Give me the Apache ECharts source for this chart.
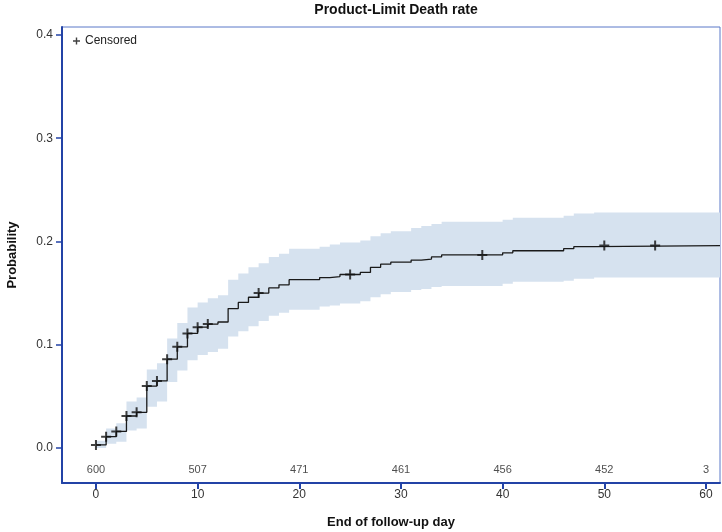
<!DOCTYPE html>
<html>
<head>
<meta charset="utf-8">
<script src="https://cdn.jsdelivr.net/npm/echarts@6/dist/echarts.min.js"></script>
<style>html,body{margin:0;padding:0;background:#fff}#c{width:722px;height:532px}</style>
</head>
<body>
<div id="c"></div>
<script>
// Step times (days)
const stepDays = [0,1,2,3,4,5,6,7,8,9,10,11,12,13,14,15,16,17,18,19,22,23,24,26,27,28,29,31,32,33,34,40,41,46,47,49];
// Product-limit estimate (death probability)
const estimate = [0.003,0.011,0.016,0.031,0.0345,0.060,0.065,0.086,0.098,0.111,0.117,0.120,0.122,0.135,0.141,0.146,0.150,0.155,0.158,0.163,0.165,0.166,0.168,0.170,0.175,0.178,0.180,0.182,0.183,0.185,0.187,0.189,0.191,0.193,0.195,0.196];
// Confidence band
const lowerCL = [0.000,0.004,0.006,0.017,0.019,0.040,0.045,0.064,0.075,0.085,0.090,0.093,0.096,0.108,0.113,0.118,0.123,0.128,0.131,0.134,0.137,0.138,0.140,0.142,0.146,0.149,0.151,0.153,0.154,0.156,0.157,0.159,0.161,0.162,0.164,0.165];
const upperCL = [0.007,0.019,0.024,0.045,0.049,0.076,0.082,0.106,0.121,0.136,0.141,0.145,0.148,0.163,0.169,0.175,0.179,0.185,0.188,0.193,0.195,0.197,0.199,0.201,0.205,0.208,0.210,0.213,0.215,0.217,0.219,0.221,0.223,0.225,0.227,0.228];
// Censored observations
const censorDays = [0,1,2,3,4,5,6,7,8,9,10,11,16,25,38,50,55];
const censorVals = [0.003,0.011,0.016,0.031,0.0345,0.060,0.065,0.086,0.098,0.111,0.117,0.120,0.150,0.168,0.187,0.196,0.196];
// Number at risk
const riskDays = [0,10,20,30,40,50,60];
const riskCounts = [600,507,471,461,456,452,3];
const xTicks = [0,10,20,30,40,50,60];
const yTicks = [0,0.1,0.2,0.3,0.4];

const X_MIN = -3.34, X_MAX = 61.38, Y_MIN = -0.0339, Y_MAX = 0.4077;
const RISK_Y = -0.0213;

function stepSeries(vals){
  const d = stepDays.map((t,i)=>[t, vals[i]]);
  d.push([X_MAX, vals[vals.length-1]]);
  return d;
}
const estData = stepSeries(estimate);

const plusPath = 'path://M4,0h2v4h4v2h-4v4h-2v-4h-4v-2h4z';
const blue = '#2343a6';
const font = 'Liberation Sans, Arial, sans-serif';

function renderBand(params, api){
  if (params.dataIndex !== 0) return;
  const pts = [];
  const n = stepDays.length;
  for (let i = 0; i < n; i++){
    const t1 = i + 1 < n ? stepDays[i+1] : X_MAX;
    pts.push(api.coord([stepDays[i], upperCL[i]]));
    pts.push(api.coord([t1, upperCL[i]]));
  }
  for (let i = n - 1; i >= 0; i--){
    const t1 = i + 1 < n ? stepDays[i+1] : X_MAX;
    pts.push(api.coord([t1, lowerCL[i]]));
    pts.push(api.coord([stepDays[i], lowerCL[i]]));
  }
  return {type:'polygon', shape:{points:pts}, style:{fill:'#d6e2ef'}};
}

const chart = echarts.init(document.getElementById('c'), null, {renderer:'canvas'});
chart.setOption({
  animation:false,
  backgroundColor:'#fff',
  title:{text:'Product-Limit Death rate', left:391, textAlign:'center', top:-2,
    textStyle:{fontFamily:font, fontSize:14, fontWeight:'bold', color:'#111'}},
  legend:{show:true, data:['Censored'], left:68, top:30, icon:plusPath, itemWidth:7, itemHeight:7, itemGap:4,
    textStyle:{fontFamily:font, fontSize:12, color:'#222'}},
  grid:{left:62, right:2, top:27, bottom:49, show:true, borderColor:'#5a78c8', borderWidth:1, outerBoundsMode:'none', containLabel:false},
  xAxis:{type:'value', min:X_MIN, max:X_MAX, name:'End of follow-up day', nameLocation:'middle', nameGap:33,
    nameTextStyle:{fontFamily:font, fontSize:13, fontWeight:'bold', color:'#111'},
    splitLine:{show:false},
    axisLine:{show:true, onZero:false, lineStyle:{color:blue, width:2}},
    axisTick:{show:true, customValues:xTicks, length:6, lineStyle:{color:blue, width:2}},
    axisLabel:{customValues:xTicks, fontFamily:font, fontSize:12, color:'#333', margin:6}},
  yAxis:{type:'value', min:Y_MIN, max:Y_MAX, name:'Probability', nameLocation:'middle', nameGap:43,
    nameTextStyle:{fontFamily:font, fontSize:13, fontWeight:'bold', color:'#111'},
    splitLine:{show:false},
    axisLine:{show:true, onZero:false, lineStyle:{color:blue, width:2}},
    axisTick:{show:true, customValues:yTicks, length:6, lineStyle:{color:blue, width:1.5}},
    axisLabel:{customValues:yTicks, formatter:v=>v.toFixed(1), fontFamily:font, fontSize:12, color:'#333', margin:9}},
  series:[
    {type:'custom', name:'band', data:stepDays.map((t,i)=>[t, upperCL[i]]), renderItem:renderBand,
      clip:true, silent:true, z:1},
    {type:'line', name:'estimate', data:estData, step:'end', symbol:'none',
      lineStyle:{color:'#1a1a1a', width:1.3}, z:3},
    {type:'scatter', name:'Censored', data:censorDays.map((t,i)=>[t, censorVals[i]]),
      symbol:plusPath, symbolSize:10, itemStyle:{color:'#111'}, z:4},
    {type:'scatter', name:'risk', data:riskDays.map((t,i)=>[t, RISK_Y, riskCounts[i]]),
      symbolSize:0, silent:true, z:5,
      label:{show:true, position:'inside', formatter:p=>String(p.data[2]), fontFamily:font, fontSize:11, color:'#222'}}
  ]
});
</script>
</body>
</html>
